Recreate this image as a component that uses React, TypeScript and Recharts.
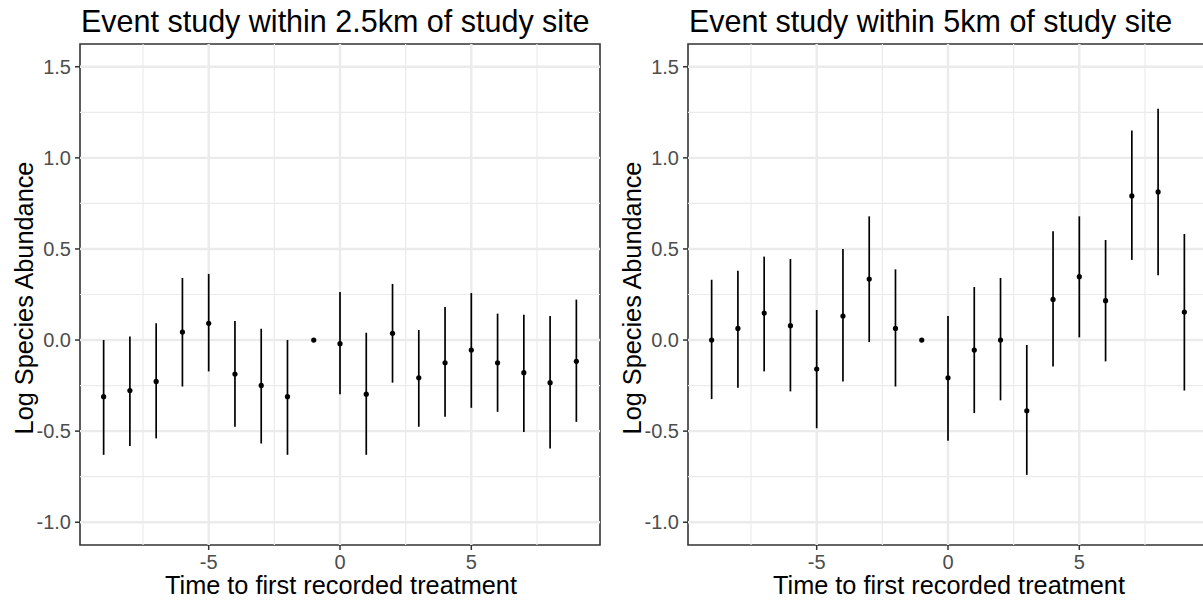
import React from "react";
import {
  ScatterChart,
  Scatter,
  XAxis,
  YAxis,
  ErrorBar,
  ReferenceLine,
  ReferenceArea,
} from "recharts";

// ---- data ----
const periods = [-9, -8, -7, -6, -5, -4, -3, -2, -1, 0, 1, 2, 3, 4, 5, 6, 7, 8, 9];

const est25 = [-0.311, -0.277, -0.227, 0.044, 0.092, -0.187, -0.249, -0.311, 0, -0.02, -0.297, 0.037, -0.207, -0.125, -0.055, -0.125, -0.179, -0.234, -0.117];
const low25 = [-0.63, -0.581, -0.54, -0.255, -0.172, -0.476, -0.568, -0.63, 0, -0.297, -0.63, -0.234, -0.476, -0.421, -0.372, -0.394, -0.505, -0.595, -0.449];
const high25 = [0.0, 0.02, 0.092, 0.341, 0.363, 0.104, 0.062, 0.0, 0, 0.264, 0.04, 0.308, 0.055, 0.181, 0.258, 0.145, 0.139, 0.132, 0.222];

const est5 = [0, 0.064, 0.148, 0.079, -0.159, 0.132, 0.335, 0.064, 0, -0.207, -0.055, 0, -0.388, 0.223, 0.348, 0.216, 0.791, 0.813, 0.154];
const low5 = [-0.324, -0.262, -0.172, -0.282, -0.484, -0.227, -0.011, -0.255, 0, -0.553, -0.401, -0.331, -0.74, -0.145, 0.015, -0.117, 0.44, 0.355, -0.277];
const high5 = [0.331, 0.381, 0.458, 0.445, 0.165, 0.5, 0.679, 0.388, 0, 0.132, 0.291, 0.341, -0.027, 0.597, 0.679, 0.549, 1.15, 1.269, 0.582];

const xTicks = [-5, 0, 5];
const xMinor = [-7.5, -2.5, 2.5, 7.5];
const yTicks = [-1, -0.5, 0, 0.5, 1, 1.5];
const yMinor = [-0.75, -0.25, 0.25, 0.75, 1.25];
const yTickLabels = ["-1.0", "-0.5", "0.0", "0.5", "1.0", "1.5"];

const titles = ["Event study within 2.5km of study site", "Event study within 5km of study site"];
const xTitle = "Time to first recorded treatment";
const yTitle = "Log Species Abundance";

const X_DOMAIN: [number, number] = [-9.9, 9.9];
const Y_DOMAIN: [number, number] = [-1.125, 1.625];

const FONT = "'Liberation Sans', Arial, sans-serif";
const PANEL_W = 608;
const H = 602;
const MARGIN = { top: 44, right: 8, bottom: 0, left: 0 };
const Y_W = 80;
const X_H = 57;

function build(est: number[], low: number[], high: number[]) {
  return periods.map((p, i) => ({
    x: p,
    y: est[i],
    err: [est[i] - low[i], high[i] - est[i]],
  }));
}

const Dot = (props: any) => {
  const { cx, cy } = props;
  if (cx == null || cy == null) return null;
  return <circle cx={cx} cy={cy} r={2.6} fill="#000" />;
};

function Panel({ data }: { data: any[] }) {
  const tickStyle = { fill: "#4D4D4D", fontSize: 20, fontFamily: FONT };
  return (
    <ScatterChart width={PANEL_W} height={H} margin={MARGIN}>
      <XAxis
        type="number"
        dataKey="x"
        domain={X_DOMAIN}
        allowDataOverflow
        ticks={xTicks}
        tick={tickStyle}
        tickSize={5}
        tickMargin={5}
        tickLine={{ stroke: "#333333", strokeWidth: 1.5 }}
        axisLine={false}
        height={X_H}
        interval={0}
      />
      <YAxis
        type="number"
        dataKey="y"
        domain={Y_DOMAIN}
        allowDataOverflow
        ticks={yTicks}
        tickFormatter={(v: number) => yTickLabels[yTicks.indexOf(v)] ?? String(v)}
        tick={tickStyle}
        tickSize={5}
        tickMargin={4}
        tickLine={{ stroke: "#333333", strokeWidth: 1.5 }}
        axisLine={false}
        width={Y_W}
        interval={0}
      />
      {yMinor.map((v) => (
        <ReferenceLine key={"ym" + v} y={v} stroke="#EBEBEB" strokeWidth={1.2} />
      ))}
      {xMinor.map((v) => (
        <ReferenceLine key={"xm" + v} x={v} stroke="#EBEBEB" strokeWidth={1.2} />
      ))}
      {yTicks.map((v) => (
        <ReferenceLine key={"yM" + v} y={v} stroke="#EBEBEB" strokeWidth={2.4} />
      ))}
      {xTicks.map((v) => (
        <ReferenceLine key={"xM" + v} x={v} stroke="#EBEBEB" strokeWidth={2.4} />
      ))}
      <Scatter data={data} dataKey="y" shape={Dot} isAnimationActive={false}>
        <ErrorBar dataKey="err" direction="y" width={0} stroke="#000" strokeWidth={1.7} isAnimationActive={false} />
      </Scatter>
      <ReferenceArea
        x1={X_DOMAIN[0]}
        x2={X_DOMAIN[1]}
        y1={Y_DOMAIN[0]}
        y2={Y_DOMAIN[1]}
        fill="none"
        fillOpacity={0}
        stroke="#333333"
        strokeWidth={1.6}
        ifOverflow="visible"
      />
    </ScatterChart>
  );
}

export default function App() {
  const d25 = build(est25, low25, high25);
  const d5 = build(est5, low5, high5);
  const panels = [d25, d5];
  return (
    <div
      style={{
        position: "absolute",
        left: 0,
        top: 0,
        width: 1203,
        height: H,
        overflow: "hidden",
        background: "#fff",
      }}
    >
      {panels.map((d, i) => (
        <div key={i} style={{ position: "absolute", left: i * PANEL_W, top: 0, width: PANEL_W, height: H }}>
          <Panel data={d} />
        </div>
      ))}
      <svg
        width={1216}
        height={H}
        style={{ position: "absolute", left: 0, top: 0, pointerEvents: "none" }}
      >
        {panels.map((_, i) => {
          const off = i * PANEL_W;
          return (
            <g key={i} fontFamily={FONT}>
              <text x={off + 81} y={32} fontSize={30.5} fill="#000">
                {titles[i]}
              </text>
              <text x={off + 341} y={594} fontSize={25.3} fill="#000" textAnchor="middle">
                {xTitle}
              </text>
              <text
                x={0}
                y={0}
                fontSize={25.3}
                fill="#000"
                textAnchor="middle"
                transform={`translate(${off + 32.5}, 298) rotate(-90)`}
              >
                {yTitle}
              </text>
            </g>
          );
        })}
      </svg>
    </div>
  );
}
